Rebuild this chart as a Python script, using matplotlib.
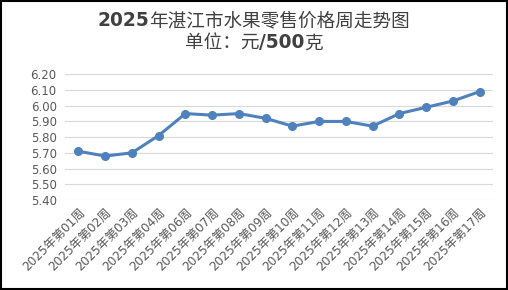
import matplotlib.pyplot as plt

plt.rcParams['font.family'] = ['DejaVu Sans', 'Noto Sans CJK SC']

weeks = ['01', '02', '03', '04', '06', '07', '08', '09', '10',
         '11', '12', '13', '14', '15', '16', '17']
labels = ['2025年第' + w + '周' for w in weeks]
prices = [5.71, 5.68, 5.70, 5.81, 5.95, 5.94, 5.95, 5.92, 5.87,
          5.90, 5.90, 5.87, 5.95, 5.99, 6.03, 6.09]
yticks = [5.40, 5.50, 5.60, 5.70, 5.80, 5.90, 6.00, 6.10, 6.20]

W, H = 508, 290
fig = plt.figure(figsize=(W / 100, H / 100), dpi=100)
ax = fig.add_axes([65 / W, 1 - 200 / H, 428 / W, 125.7 / H])

x = list(range(len(prices)))
ax.plot(x, prices, color='#4F81BD', linewidth=2.2, marker='o', markersize=5.5)

ax.set_xlim(-0.5, len(prices) - 0.5)
ax.set_ylim(5.40, 6.20)
ax.set_yticks(yticks)
ax.set_yticklabels(['%.2f' % v for v in yticks])
ax.set_xticks(x)
ax.set_xticklabels(labels, rotation=45, ha='right', rotation_mode='anchor')
ax.tick_params(axis='y', length=0, labelsize=8.5, colors='#595959', pad=6)
ax.tick_params(axis='x', length=0, labelsize=8.7, colors='#595959', pad=4)
ax.grid(axis='y', color='#D9D9D9', linewidth=0.8)
ax.set_axisbelow(True)
for s in ax.spines.values():
    s.set_visible(False)


# title: latin bold, chinese regular, centred as one line
def centred_line(parts, ypix, size):
    r = fig.canvas.get_renderer()
    texts = []
    for s, w in parts:
        t = fig.text(0, 1 - ypix / H, s, fontsize=size, fontweight=w,
                     color='#404040', va='center', ha='left')
        texts.append(t)
    widths = [t.get_window_extent(r).width for t in texts]
    xpos = (W - sum(widths)) / 2
    for t, w in zip(texts, widths):
        t.set_x(xpos / W)
        xpos += w


centred_line([('2025', 'bold'), ('年湛江市水果零售价格周走势图', 'normal')], 21, 13.4)
centred_line([('单位：元', 'normal'), ('/500', 'bold'), ('克', 'normal')], 43, 13.4)

fig.patches.append(plt.Rectangle((0.001, 0.002), 0.997, 0.996, transform=fig.transFigure,
                                 fill=False, edgecolor='black', linewidth=1.5))

fig.savefig('out.png', dpi=100)
